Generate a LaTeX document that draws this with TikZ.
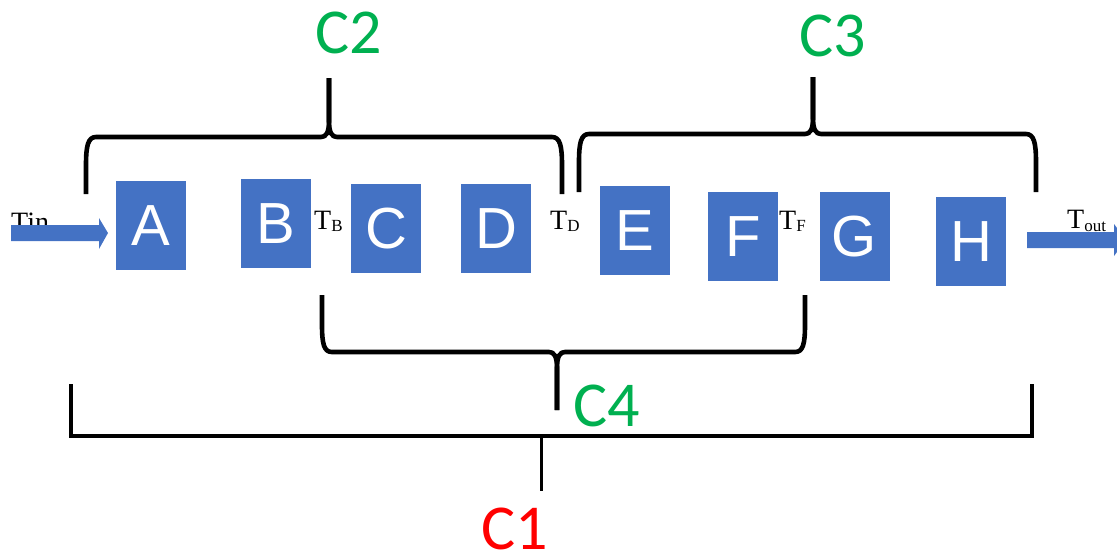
\documentclass[tikz,border=0pt]{standalone}
\usepackage{fontspec}
\setmainfont{Liberation Sans}
\newfontfamily\tmsfont{Liberation Serif}
\newfontfamily\carlfont{Carlito}
\usetikzlibrary{arrows.meta}
\definecolor{boxblue}{HTML}{4472C4}
\definecolor{cgreen}{HTML}{00B050}
\definecolor{cred}{HTML}{FF0000}
\newcommand{\Tlab}[2][2pt]{{\tmsfont\fontsize{28}{28}\selectfont T\raisebox{-#1}{\fontsize{17}{17}\selectfont #2}}}
\begin{document}
\begin{tikzpicture}[x=1pt,y=-1pt,
  blk/.style={fill=boxblue, text=white, minimum width=70pt, minimum height=89pt, inner sep=0pt, font=\fontsize{58}{58}\selectfont},
  brace/.style={line width=4.6pt, line cap=butt, line join=round},
  sqbracket/.style={line width=4.8pt, line cap=butt, line join=miter},
  clab/.style={font=\carlfont\fontsize{64}{64}\selectfont, inner sep=0pt},
  tlab/.style={anchor=base west, inner sep=0pt}
]
\useasboundingbox (0,0) rectangle (1117,558);
\begin{scope}
\clip (0,0) rectangle (1117,558);

% boxes
\node[blk] (A) at (151,225.5) {A};
\node[blk] (B) at (276,223.5) {B};
\node[blk] (C) at (386,228.5) {C};
\node[blk] (D) at (496,228.5) {D};
\node[blk] (E) at (635,230.5) {E};
\node[blk] (F) at (743,236.5) {F};
\node[blk] (G) at (854.5,236.5) {G};
\node[blk] (H) at (971,241.5) {H};

% temperature labels
\node[tlab] (tin) at (11,231) {\tmsfont\fontsize{28}{28}\selectfont Tin};
\node[tlab] (tB) at (314,229) {\Tlab{B}};
\node[tlab] (tD) at (550,229) {\Tlab{D}};
\node[tlab] (tF) at (779,229) {\Tlab{F}};
\node[tlab] (tout) at (1067,228) {\Tlab[3pt]{out}};

% flow arrows
\coordinate (inS) at (11,233);
\coordinate (inE) at (108,233);
\fill[boxblue] (inS) ++(0,-8) -- ++(88,0) -- ++(0,-7) -- (inE) -- ++(-9,16) -- ++(0,-8) -- ++(-88,0) -- cycle;
\coordinate (outS) at (1027,240);
\coordinate (outE) at (1126,240);
\fill[boxblue] (outS) ++(0,-8) -- ++(87,0) -- ++(0,-8) -- (outE) -- ++(-12,16) -- ++(0,-8) -- ++(-87,0) -- cycle;

% C2 brace (top)
\draw[brace] (86,194) -- (86,165) .. controls (86,146) and (88,137) .. (96,137) -- (321,137) .. controls (326,137) and (329,133) .. (329,121) -- (329,78);
\draw[brace] (562,194) -- (562,165) .. controls (562,146) and (560,137) .. (552,137) -- (337,137) .. controls (332,137) and (329,133) .. (329,121) -- (329,78);

% C3 brace (top)
\draw[brace] (579,192) -- (579,162) .. controls (579,143) and (581,134) .. (589,134) -- (805,134) .. controls (810,134) and (813,130) .. (813,118) -- (813,77);
\draw[brace] (1036,192) -- (1036,162) .. controls (1036,143) and (1034,134) .. (1026,134) -- (821,134) .. controls (816,134) and (813,130) .. (813,118) -- (813,77);

% C4 brace (bottom)
\draw[brace] (322,295) -- (322,325) .. controls (322,344) and (324,352) .. (332,352) -- (549,352) .. controls (554,352) and (557,356) .. (557,368) -- (557,410);
\draw[brace] (805,295) -- (805,325) .. controls (805,344) and (803,352) .. (795,352) -- (565,352) .. controls (560,352) and (557,356) .. (557,368) -- (557,410);

% C1 square bracket
\draw[sqbracket] (71,384) -- (71,436) -- (1032,436) -- (1032,384);
\coordinate (c1top) at (541,436);
\coordinate (c1bot) at (541,491);
\draw[line width=3pt] (c1top) -- (c1bot);

% group labels
\node[clab, text=cgreen] (C2) at (349,33) {C2};
\node[clab, text=cgreen] (C3) at (833,36) {C3};
\node[clab, text=cgreen] (C4) at (607,406) {C4};
\node[clab, text=cred] (C1) at (515,529) {C1};
\end{scope}
\end{tikzpicture}
\end{document}
